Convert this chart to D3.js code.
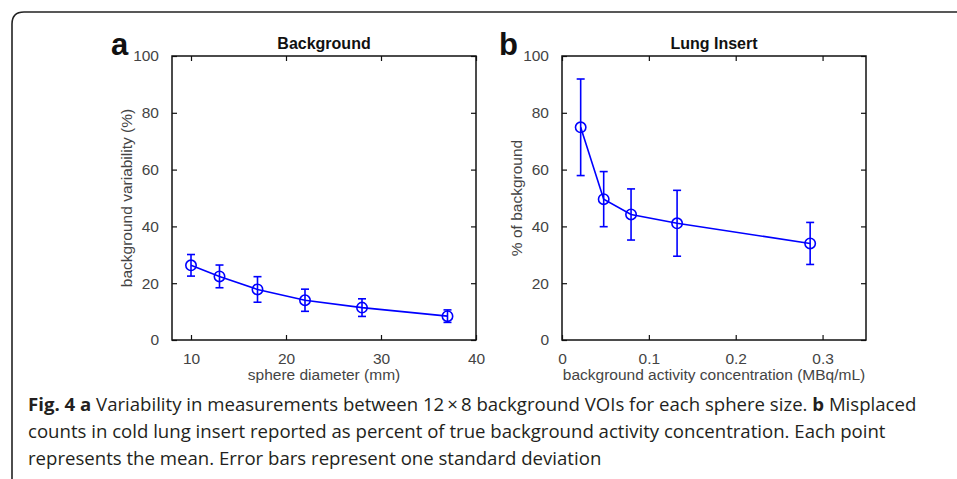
<!DOCTYPE html>
<html>
<head>
<meta charset="utf-8">
<script src="https://cdn.jsdelivr.net/npm/d3@7"></script>
<style>
  body { margin: 0; background: #fff; }
  svg { display: block; }
</style>
</head>
<body>
<div id="chart"></div>
<script>
// panel a: background variability vs sphere size
const sphereDiameter = [10, 13, 17, 22, 28, 37];
const bgVariability = [26.3, 22.4, 17.8, 14.0, 11.4, 8.4];
const bgVariabilitySd = [3.8, 4.0, 4.5, 3.9, 3.1, 2.2];

// panel b: lung insert
const activityConc = [0.0215, 0.048, 0.0795, 0.1325, 0.2857];
const lungPercent = [74.9, 49.6, 44.2, 41.1, 34.0];
const lungPercentSd = [17.0, 9.7, 9.0, 11.6, 7.4];

const yTicks = [0, 20, 40, 60, 80, 100];
const xTicksA = [10, 20, 30, 40];
const xTicksB = [0, 0.1, 0.2, 0.3];

const W = 957, H = 479;
const svg = d3.select('#chart').append('svg')
  .attr('width', W)
  .attr('height', H);

// frame round the figure (open at right and bottom)
svg.append('path')
  .attr('d', 'M12,' + (H + 5) + ' L12,24 Q12,12 24,12 L' + (W + 5) + ',12')
  .attr('fill', 'none')
  .attr('stroke', '#222')
  .attr('stroke-width', 1.6);

const plotTop = 56, plotBottom = 340;
const blue = '#0000ff';
const tickFont = 'Liberation Sans, Arial, Helvetica, sans-serif';

function panel(opts) {
  const x = d3.scaleLinear().domain(opts.xDomain).range([opts.left, opts.right]);
  const y = d3.scaleLinear().domain([0, 100]).range([plotBottom, plotTop]);
  const g = svg.append('g');

  // ticks on all four sides, inward
  const tl = 5;
  g.append('g')
    .attr('transform', `translate(0,${plotBottom})`)
    .call(d3.axisBottom(x).tickValues(opts.xTicks).tickSize(-tl).tickPadding(8 + tl).tickFormat(d3.format('')))
    .call(s => s.select('.domain').remove());
  g.append('g')
    .attr('transform', `translate(0,${plotTop})`)
    .call(d3.axisTop(x).tickValues(opts.xTicks).tickSize(-tl).tickFormat(''))
    .call(s => s.select('.domain').remove());
  g.append('g')
    .attr('transform', `translate(${opts.left},0)`)
    .call(d3.axisLeft(y).tickValues(yTicks).tickSize(-tl).tickPadding(8 + tl))
    .call(s => s.select('.domain').remove());
  g.append('g')
    .attr('transform', `translate(${opts.right},0)`)
    .call(d3.axisRight(y).tickValues(yTicks).tickSize(-tl).tickFormat(''))
    .call(s => s.select('.domain').remove());

  g.selectAll('.tick line').attr('stroke', '#111').attr('stroke-width', 1.2);
  g.selectAll('.tick text')
    .attr('fill', '#444')
    .style('font-family', tickFont)
    .style('font-size', '15.5px');

  // box
  g.append('rect')
    .attr('x', opts.left)
    .attr('y', plotTop)
    .attr('width', opts.right - opts.left)
    .attr('height', plotBottom - plotTop)
    .attr('fill', 'none')
    .attr('stroke', '#111')
    .attr('stroke-width', 1.5);

  // title
  g.append('text')
    .attr('x', (opts.left + opts.right) / 2)
    .attr('y', 49)
    .attr('text-anchor', 'middle')
    .style('font-family', tickFont)
    .style('font-weight', 'bold')
    .style('font-size', '16px')
    .attr('fill', '#111')
    .text(opts.title);

  // panel letter
  g.append('text')
    .attr('x', opts.letterX)
    .attr('y', 55)
    .style('font-family', tickFont)
    .style('font-weight', 'bold')
    .style('font-size', '31px')
    .attr('fill', '#111')
    .text(opts.letter);

  // axis labels
  g.append('text')
    .attr('x', (opts.left + opts.right) / 2)
    .attr('y', 380)
    .attr('text-anchor', 'middle')
    .style('font-family', tickFont)
    .style('font-size', '15.5px')
    .attr('fill', '#444')
    .text(opts.xLabel);

  g.append('text')
    .attr('transform', 'rotate(-90)')
    .attr('x', -(plotTop + plotBottom) / 2)
    .attr('y', opts.left - 40)
    .attr('text-anchor', 'middle')
    .style('font-family', tickFont)
    .style('font-size', '15.5px')
    .attr('fill', '#444')
    .text(opts.yLabel);

  const pts = opts.xs.map((v, i) => ({ x: v, y: opts.ys[i], sd: opts.sds[i] }));

  // connecting line
  g.append('path')
    .datum(pts)
    .attr('fill', 'none')
    .attr('stroke', blue)
    .attr('stroke-width', 1.6)
    .attr('d', d3.line().x(d => x(d.x)).y(d => y(d.y)));

  // error bars
  const eb = g.selectAll('.eb').data(pts).enter().append('g')
    .attr('stroke', blue)
    .attr('stroke-width', 1.6);
  eb.append('line')
    .attr('x1', d => x(d.x)).attr('x2', d => x(d.x))
    .attr('y1', d => y(d.y - d.sd)).attr('y2', d => y(d.y + d.sd));
  eb.append('line')
    .attr('x1', d => x(d.x) - 4).attr('x2', d => x(d.x) + 4)
    .attr('y1', d => y(d.y + d.sd)).attr('y2', d => y(d.y + d.sd));
  eb.append('line')
    .attr('x1', d => x(d.x) - 4).attr('x2', d => x(d.x) + 4)
    .attr('y1', d => y(d.y - d.sd)).attr('y2', d => y(d.y - d.sd));

  // circle markers
  g.selectAll('.mk').data(pts).enter().append('circle')
    .attr('cx', d => x(d.x))
    .attr('cy', d => y(d.y))
    .attr('r', 5.2)
    .attr('fill', 'none')
    .attr('stroke', blue)
    .attr('stroke-width', 1.6);
}

panel({
  left: 172, right: 476, xDomain: [8, 40], xTicks: xTicksA,
  xs: sphereDiameter, ys: bgVariability, sds: bgVariabilitySd,
  title: 'Background', letter: 'a', letterX: 111,
  xLabel: 'sphere diameter (mm)', yLabel: 'background variability (%)'
});

panel({
  left: 562, right: 866, xDomain: [0, 0.35], xTicks: xTicksB,
  xs: activityConc, ys: lungPercent, sds: lungPercentSd,
  title: 'Lung Insert', letter: 'b', letterX: 499,
  xLabel: 'background activity concentration (MBq/mL)', yLabel: '% of background'
});

// caption
const captionLines = [
  [['Fig. 4 a', true], [' Variability in measurements between 12\u2009\u00d7\u20098 background VOIs for each sphere size. ', false], ['b', true], [' Misplaced', false]],
  [['counts in cold lung insert reported as percent of true background activity concentration. Each point', false]],
  [['represents the mean. Error bars represent one standard deviation', false]]
];

const cap = svg.append('text')
  .style('font-family', 'Open Sans, sans-serif')
  .style('font-size', '18.6px')
  .attr('fill', '#231f20');

captionLines.forEach((line, i) => {
  line.forEach((part, j) => {
    const t = cap.append('tspan').text(part[0]);
    if (j === 0) t.attr('x', 28).attr('y', 411 + i * 27);
    if (part[1]) t.style('font-weight', 'bold');
  });
});
</script>
</body>
</html>
